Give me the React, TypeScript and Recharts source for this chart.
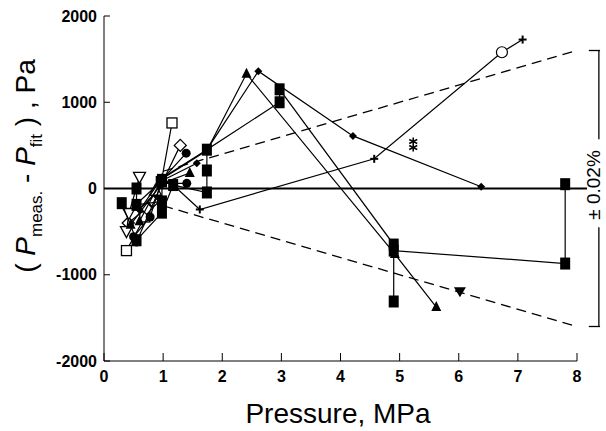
import React from "react"
import { ScatterChart, Scatter, XAxis, YAxis, ReferenceLine } from "recharts"

type Pt = { x: number; y: number }

// pressure (MPa) vs P_meas - P_fit (Pa), one array per isotherm
const openSquarePts: Pt[] = [
  { x: 0.38, y: -720 }, { x: 0.69, y: -330 }, { x: 0.97, y: 80 }, { x: 1.15, y: 760 },
]
const openDiamondPts: Pt[] = [
  { x: 0.41, y: -400 }, { x: 0.72, y: -230 }, { x: 0.83, y: -150 }, { x: 1.29, y: 500 },
]
const openTriDownPts: Pt[] = [
  { x: 0.38, y: -500 }, { x: 0.42, y: -290 }, { x: 0.6, y: 130 },
]
const openTriUpPts: Pt[] = [{ x: 0.87, y: -20 }]
const circlePtsA: Pt[] = [
  { x: 0.5, y: -560 }, { x: 0.78, y: -330 }, { x: 0.98, y: 100 }, { x: 1.39, y: 410 },
]
const circlePtsB: Pt[] = [
  { x: 0.55, y: -620 }, { x: 0.98, y: 60 }, { x: 1.4, y: 60 },
]
const triShortPts: Pt[] = [
  { x: 0.45, y: -420 }, { x: 0.98, y: 60 }, { x: 1.45, y: 180 },
]
const diamondShortPts: Pt[] = [
  { x: 0.55, y: -180 }, { x: 0.98, y: 90 }, { x: 1.57, y: 292 },
]
const triLongPts: Pt[] = [
  { x: 0.6, y: -380 }, { x: 0.98, y: 110 }, { x: 1.74, y: 440 }, { x: 2.41, y: 1330 },
  { x: 4.92, y: -760 }, { x: 5.62, y: -1375 },
]
const diamondLongPts: Pt[] = [
  { x: 0.6, y: -250 }, { x: 0.98, y: 120 }, { x: 1.74, y: 450 }, { x: 2.61, y: 1360 },
  { x: 4.21, y: 610 }, { x: 6.38, y: 20 },
]
const squareLongPts: Pt[] = [
  { x: 0.3, y: -170 }, { x: 0.55, y: -600 }, { x: 0.98, y: -280 }, { x: 1.17, y: 40 },
  { x: 1.74, y: -46 }, { x: 1.74, y: 209 }, { x: 1.74, y: 450 }, { x: 2.97, y: 1000 },
  { x: 2.97, y: 1150 }, { x: 4.9, y: -650 }, { x: 4.9, y: -1310 }, { x: 4.9, y: -720 },
  { x: 7.8, y: -870 }, { x: 7.8, y: 50 },
]
const squareShortPts: Pt[] = [
  { x: 0.55, y: 0 }, { x: 0.55, y: -190 }, { x: 0.98, y: -150 }, { x: 0.98, y: 100 },
]
const plusPts: Pt[] = [
  { x: 0.98, y: 100 }, { x: 1.17, y: 40 }, { x: 1.62, y: -243 }, { x: 4.57, y: 344 },
  { x: 6.73, y: 1580 }, { x: 7.08, y: 1727 },
]
const openCirclePts: Pt[] = [{ x: 6.73, y: 1580 }]
const asteriskPts: Pt[] = [{ x: 5.23, y: 510 }]
const triDownPts: Pt[] = [{ x: 6.02, y: -1190 }]

const xTicks = [0, 1, 2, 3, 4, 5, 6, 7, 8]
const yTicks = [-2000, -1000, 0, 1000, 2000]
// +-0.02 % band
const upperBand: Pt[] = [{ x: 1, y: 200 }, { x: 8, y: 1600 }]
const lowerBand: Pt[] = [{ x: 1, y: -200 }, { x: 8, y: -1600 }]
const bandLimit = 1600
const bandLabel = "± 0.02%"

const K = "#000"
const FONT = "'Liberation Sans', Arial, sans-serif"
const BRACKET_X = 8.37
const lineStyle = { stroke: K, strokeWidth: 1.2 }

const FilledSquare = ({ cx, cy }: any) => <rect x={cx - 5} y={cy - 6} width={10} height={12} fill={K} />
const OpenSquare = ({ cx, cy }: any) => (
  <rect x={cx - 5} y={cy - 5} width={10} height={10} fill="#fff" stroke={K} strokeWidth={1.3} />
)
const OpenDiamond = ({ cx, cy }: any) => (
  <path d={`M${cx},${cy - 6}L${cx + 6},${cy}L${cx},${cy + 6}L${cx - 6},${cy}Z`} fill="#fff" stroke={K} strokeWidth={1.3} />
)
const SmallDiamond = ({ cx, cy }: any) => (
  <path d={`M${cx},${cy - 4}L${cx + 4},${cy}L${cx},${cy + 4}L${cx - 4},${cy}Z`} fill={K} />
)
const FilledCircle = ({ cx, cy }: any) => <circle cx={cx} cy={cy} r={4.5} fill={K} />
const OpenCircle = ({ cx, cy }: any) => <circle cx={cx} cy={cy} r={5.5} fill="#fff" stroke={K} strokeWidth={1.2} />
const FilledTri = ({ cx, cy }: any) => (
  <path d={`M${cx},${cy - 6}L${cx + 5},${cy + 4}L${cx - 5},${cy + 4}Z`} fill={K} />
)
const OpenTriUp = ({ cx, cy }: any) => (
  <path d={`M${cx},${cy - 6}L${cx + 6},${cy + 5}L${cx - 6},${cy + 5}Z`} fill="#fff" stroke={K} strokeWidth={1.3} />
)
const OpenTriDown = ({ cx, cy }: any) => (
  <path d={`M${cx - 6},${cy - 5}L${cx + 6},${cy - 5}L${cx},${cy + 6}Z`} fill="#fff" stroke={K} strokeWidth={1.3} />
)
const FilledTriDown = ({ cx, cy }: any) => (
  <path d={`M${cx - 6},${cy - 4}L${cx + 6},${cy - 4}L${cx},${cy + 6}Z`} fill={K} />
)
const Plus = ({ cx, cy }: any) => (
  <g stroke={K} strokeWidth={2}>
    <line x1={cx - 4} y1={cy} x2={cx + 4} y2={cy} />
    <line x1={cx} y1={cy - 4} x2={cx} y2={cy + 4} />
  </g>
)
const Asterisk = ({ cx, cy }: any) => (
  <g stroke={K} strokeWidth={1.6}>
    <line x1={cx} y1={cy - 7} x2={cx} y2={cy + 7} />
    <line x1={cx - 4} y1={cy - 5} x2={cx + 4} y2={cy - 1} />
    <line x1={cx + 4} y1={cy - 5} x2={cx - 4} y2={cy - 1} />
    <line x1={cx - 4} y1={cy + 1} x2={cx + 4} y2={cy + 5} />
    <line x1={cx + 4} y1={cy + 1} x2={cx - 4} y2={cy + 5} />
  </g>
)

export default function App() {
  const tickStyle = { fill: K, fontSize: 16, fontWeight: "bold", fontFamily: FONT }
  return (
    <div style={{ position: "absolute", left: 0, top: 0, width: 606, height: 431, background: "#fff" }}>
      <ScatterChart width={606} height={431} margin={{ top: 16, right: 29, bottom: 0, left: 0 }}>
        <XAxis
          type="number"
          dataKey="x"
          domain={[0, 8]}
          ticks={xTicks}
          interval={0}
          height={70}
          tickSize={-8}
          tickMargin={18}
          axisLine={{ stroke: K }}
          tickLine={{ stroke: K }}
          tick={tickStyle}
        />
        <YAxis
          type="number"
          dataKey="y"
          domain={[-2000, 2000]}
          ticks={yTicks}
          interval={0}
          width={104}
          tickSize={-6}
          tickMargin={13}
          axisLine={{ stroke: K }}
          tickLine={{ stroke: K }}
          tick={tickStyle}
        />
        <ReferenceLine segment={[{ x: 0, y: 0 }, { x: 8.17, y: 0 }]} stroke={K} strokeWidth={2} ifOverflow="visible" />
        <ReferenceLine segment={upperBand} stroke={K} strokeWidth={1.3} strokeDasharray="10 6" ifOverflow="visible" />
        <ReferenceLine segment={lowerBand} stroke={K} strokeWidth={1.3} strokeDasharray="10 6" ifOverflow="visible" />
        {/* bracket for the band */}
        <ReferenceLine segment={[{ x: BRACKET_X, y: bandLimit }, { x: BRACKET_X, y: 570 }]} stroke={K} strokeWidth={1.3} ifOverflow="visible" />
        <ReferenceLine segment={[{ x: BRACKET_X, y: -450 }, { x: BRACKET_X, y: -bandLimit }]} stroke={K} strokeWidth={1.3} ifOverflow="visible" />
        <ReferenceLine segment={[{ x: 8.2, y: bandLimit }, { x: 8.39, y: bandLimit }]} stroke={K} strokeWidth={1.3} ifOverflow="visible" />
        <ReferenceLine segment={[{ x: 8.2, y: -bandLimit }, { x: 8.39, y: -bandLimit }]} stroke={K} strokeWidth={1.3} ifOverflow="visible" />

        <Scatter data={plusPts} line={lineStyle} shape={Plus} isAnimationActive={false} />
        <Scatter data={openSquarePts} line={lineStyle} shape={OpenSquare} isAnimationActive={false} />
        <Scatter data={openDiamondPts} line={lineStyle} shape={OpenDiamond} isAnimationActive={false} />
        <Scatter data={openTriDownPts} line={lineStyle} shape={OpenTriDown} isAnimationActive={false} />
        <Scatter data={openTriUpPts} shape={OpenTriUp} isAnimationActive={false} />
        <Scatter data={diamondLongPts} line={lineStyle} shape={SmallDiamond} isAnimationActive={false} />
        <Scatter data={triLongPts} line={lineStyle} shape={FilledTri} isAnimationActive={false} />
        <Scatter data={circlePtsA} line={lineStyle} shape={FilledCircle} isAnimationActive={false} />
        <Scatter data={circlePtsB} line={lineStyle} shape={FilledCircle} isAnimationActive={false} />
        <Scatter data={triShortPts} line={lineStyle} shape={FilledTri} isAnimationActive={false} />
        <Scatter data={diamondShortPts} line={lineStyle} shape={SmallDiamond} isAnimationActive={false} />
        <Scatter data={squareLongPts} line={lineStyle} shape={FilledSquare} isAnimationActive={false} />
        <Scatter data={squareShortPts} line={lineStyle} shape={FilledSquare} isAnimationActive={false} />
        <Scatter data={openCirclePts} shape={OpenCircle} isAnimationActive={false} />
        <Scatter data={asteriskPts} shape={Asterisk} isAnimationActive={false} />
        <Scatter data={triDownPts} shape={FilledTriDown} isAnimationActive={false} />
      </ScatterChart>

      <svg width={606} height={431} style={{ position: "absolute", left: 0, top: 0, pointerEvents: "none" }}>
        <g fontFamily={FONT} fill={K}>
          <text x={338} y={423} fontSize={28} textAnchor="middle">Pressure, MPa</text>
          <text transform="translate(35,166) rotate(-90)" fontSize={28} textAnchor="middle">
            {"( "}
            <tspan fontStyle="italic">P</tspan>
            <tspan fontSize={17} dy={7}>meas.</tspan>
            <tspan dy={-7}>{" - "}</tspan>
            <tspan fontStyle="italic">P</tspan>
            <tspan fontSize={17} dy={7}>fit</tspan>
            <tspan dy={-7}>{" ) , Pa"}</tspan>
          </text>
          <text transform="translate(600,185) rotate(-90)" fontSize={19} textAnchor="middle">{bandLabel}</text>
        </g>
      </svg>
    </div>
  )
}
